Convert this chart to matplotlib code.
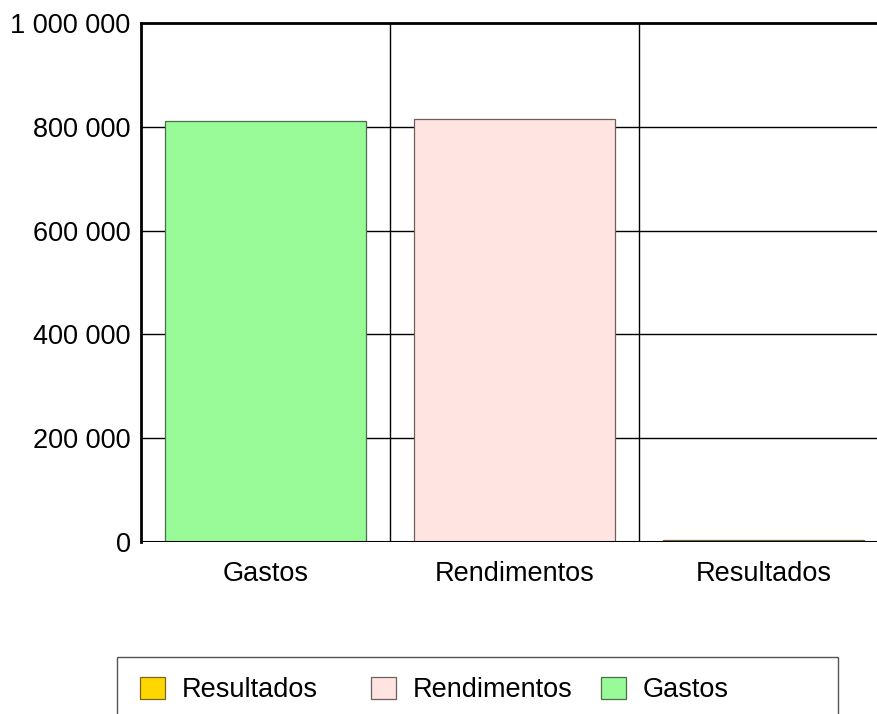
import matplotlib
matplotlib.use("Agg")
import matplotlib.pyplot as plt
from matplotlib.patches import Rectangle
from matplotlib.ticker import FuncFormatter

## DATA
#
categories = ["Gastos", "Rendimentos", "Resultados"]
values = [811000, 815000, 4000]
colors = ["#98FB98", "#FFE4E1", "#FFD700"]
edges = ["#4a6e4a", "#6e5e5e", "#7a6420"]
legend_order = ["Resultados", "Rendimentos", "Gastos"]
yticks = [0, 200000, 400000, 600000, 800000, 1000000]

plt.rcParams['font.family'] = ['Liberation Sans', 'DejaVu Sans']

W, H = 877, 714
fig = plt.figure(figsize=(W / 100, H / 100), dpi=100)

# axes in pixel coords: left 141, top 23, bottom 542, right past the edge
left, top, bottom, right = 141, 23, 542, 888
ax = fig.add_axes([left / W, 1 - bottom / H, (right - left) / W, (bottom - top) / H])

x = range(len(categories))
bars = ax.bar(x, values, width=0.81, color=colors, edgecolor=edges,
              linewidth=0.9, zorder=3)

ax.set_xlim(-0.5, len(categories) - 0.5)
ax.set_ylim(0, 1000000)
ax.set_yticks(yticks)
ax.yaxis.set_major_formatter(FuncFormatter(lambda v, p: f"{int(v):,}".replace(",", " ")))
ax.set_xticks(list(x))
ax.set_xticklabels(categories)
ax.tick_params(axis='both', length=0, labelsize=19.5, colors='black')
ax.tick_params(axis='y', pad=7.5)
ax.tick_params(axis='x', pad=14)

# horizontal grid and category separators
for v in yticks[1:-1]:
    ax.axhline(v, color='black', linewidth=1.0, zorder=1)
for b in [0.5, 1.5]:
    ax.axvline(b, color='black', linewidth=1.0, zorder=1)
ax.axhline(0, color='black', linewidth=2.2, zorder=4)

for s in ['left', 'top']:
    ax.spines[s].set_linewidth(2.0)
    ax.spines[s].set_color('black')
ax.spines['right'].set_visible(False)
ax.spines['bottom'].set_visible(False)

# legend box (cut off at the bottom of the figure)
fig.patches.append(Rectangle((117 / W, -0.05), (838 - 117) / W, 0.05 + (1 - 657 / H),
                             transform=fig.transFigure, facecolor='white',
                             edgecolor='#555555', linewidth=1.0))

handle = dict(zip(categories, bars))
xpos = [140, 371, 601]
for name, px in zip(legend_order, xpos):
    leg = fig.legend([handle[name]], [name], loc='center left',
                     bbox_to_anchor=(px / W, 1 - 690 / H), frameon=False,
                     fontsize=19.5, handlelength=0.92, handleheight=0.92,
                     handletextpad=0.63, borderpad=0, borderaxespad=0)

plt.savefig("out.png", dpi=100)
